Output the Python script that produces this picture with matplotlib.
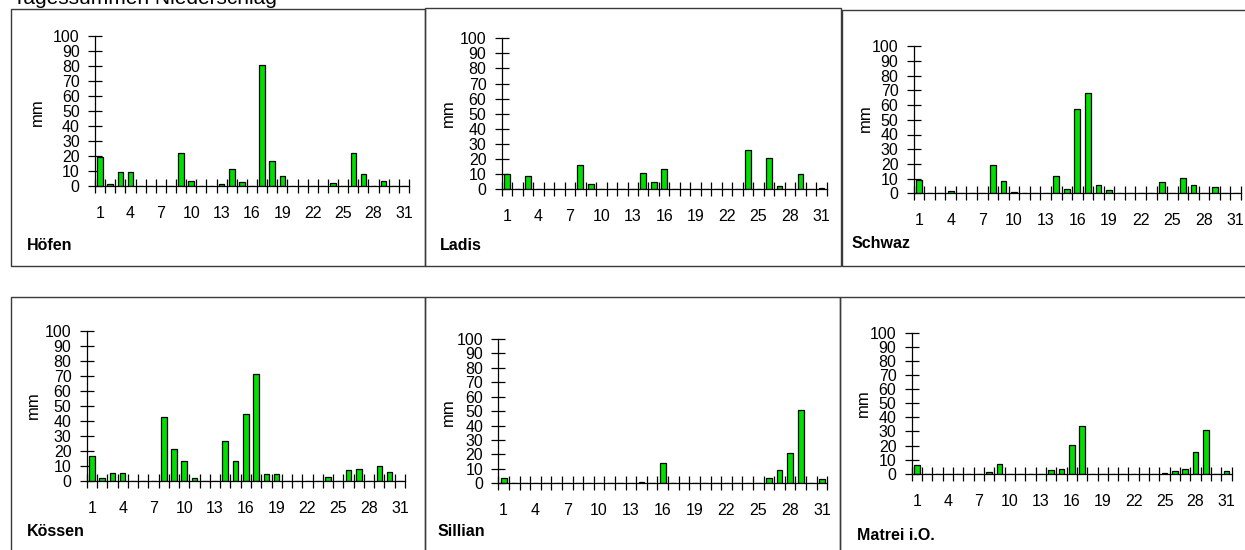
import matplotlib
matplotlib.use('Agg')
import matplotlib.pyplot as plt
from matplotlib.patches import Rectangle

plt.rcParams['font.family'] = ['Liberation Sans', 'DejaVu Sans']

days = list(range(1, 32))
label_days = [1, 4, 7, 10, 13, 16, 19, 22, 25, 28, 31]
y_ticks = [0, 10, 20, 30, 40, 50, 60, 70, 80, 90, 100]

stations = ['Höfen', 'Ladis', 'Schwaz', 'Kössen', 'Sillian', 'Matrei i.O.']

hoefen = [19, 1, 9, 9.5, 0, 0, 0, 0, 22, 3.3, 0, 0, 1, 11.3, 2.4, 0, 80.7, 16.6, 6.9,
          0, 0, 0, 0, 1.8, 0, 22, 8, 0, 3.3, 0, 0]
ladis = [10, 0, 9, 0, 0, 0, 0, 16, 3.7, 0, 0, 0, 0, 10.8, 4.6, 13.5, 0, 0, 0, 0, 0, 0, 0,
         25.8, 0, 20.5, 2, 0, 10, 0, 1]
schwaz = [9.3, 0, 0, 1.8, 0, 0, 0, 19.5, 8.4, 1.1, 0, 0, 0, 12, 2.7, 57.4, 68.5, 5.7, 2,
          0, 0, 0, 0, 7.5, 0, 10.2, 5.7, 0, 4.5, 0, 0]
koessen = [16.9, 1.8, 5.3, 5.3, 0, 0, 0, 42.7, 21.3, 13.3, 1.8, 0, 0, 26.7, 13.3, 44.4,
           71.1, 4.4, 4.4, 0, 0, 0, 0, 2.7, 0, 7.1, 8, 0, 9.8, 6.2, 0]
sillian = [3.7, 0, 0, 0, 0, 0, 0, 0, 0, 0, 0, 0, 0, 1.2, 0, 14, 0, 0, 0, 0, 0, 0, 0, 0, 0,
           3.7, 9.5, 20.8, 51, 0, 2.8]
matrei = [6.4, 0, 0, 0, 0, 0, 0, 1.4, 7.1, 0, 0, 0, 0, 2.4, 3.3, 20.4, 33.6, 0, 0, 0, 0,
          0, 0, 0, 0.7, 1.7, 3.3, 15.6, 30.8, 0, 1.7]

series = [hoefen, ladis, schwaz, koessen, sillian, matrei]

W, H = 1245, 550
fig = plt.figure(figsize=(W / 100, H / 100), dpi=100)

# layout in pixels
boxes = [(11, 9, 425, 266), (425, 8, 841, 266), (841.5, 9.5, 1250, 266),
         (11, 297, 425, 560), (425, 297, 840, 560), (840, 297, 1250, 560)]
axes_px = [(95, 409, 186, 35.7), (501.7, 826.7, 189.3, 38.3), (913.7, 1241, 193.3, 46.3),
           (86.7, 405, 481, 331), (498.3, 827.3, 483.3, 339), (911.7, 1231.7, 473.7, 333)]
name_px = [(27, 245), (440, 245), (852, 243), (27, 532), (438, 532), (857, 535)]
mm_px = [(37, 112), (448, 113), (865, 118), (33, 405), (448, 412), (863, 403)]


def fx(x):
    return x / W


def fy(y):
    return 1 - y / H


fig.text(fx(13), fy(4.5), 'Tagessummen Niederschlag', fontsize=15, va='baseline', ha='left')

for i, (name, vals) in enumerate(zip(stations, series)):
    bl, bt, br, bb = boxes[i]
    fig.add_artist(Rectangle((fx(bl), fy(bb)), fx(br) - fx(bl), fy(bt) - fy(bb),
                             transform=fig.transFigure, fill=False,
                             edgecolor='#3a3a3a', linewidth=1.0))
    l, r, y0, y100 = axes_px[i]
    ax = fig.add_axes([fx(l), fy(y0), fx(r) - fx(l), fy(y100) - fy(y0)])
    ax.patch.set_alpha(0)
    ax.bar(days, vals, width=0.55, color='#00E000', edgecolor='black', linewidth=0.9,
           zorder=3)
    ax.set_xlim(0.5, 31.5)
    ax.set_ylim(0, 100)
    for s in ['top', 'right']:
        ax.spines[s].set_visible(False)
    ax.spines['left'].set_linewidth(0.9)
    ax.spines['bottom'].set_linewidth(0.9)
    ax.spines['bottom'].set_zorder(4)
    ax.set_yticks(y_ticks)
    ax.set_yticklabels([str(v) for v in y_ticks])
    ax.tick_params(axis='y', direction='inout', length=10, width=0.9, pad=6.0,
                   labelsize=11.5)
    ax.set_xticks([d - 0.5 for d in days] + [31.5])
    ax.set_xticklabels([])
    ax.set_xticks(label_days, minor=True)
    ax.set_xticklabels([str(d) for d in label_days], minor=True)
    ax.tick_params(axis='x', which='major', direction='inout', length=10, width=0.9)
    ax.tick_params(axis='x', which='minor', length=0, pad=14.5, labelsize=11.5)
    nx, ny = name_px[i]
    fig.text(fx(nx), fy(ny), name, fontsize=11.5, fontweight='bold', ha='left', va='center')
    mx, my = mm_px[i]
    fig.text(fx(mx), fy(my), 'mm', fontsize=12, rotation=90, ha='center', va='center')

fig.savefig('out.png', dpi=100)
